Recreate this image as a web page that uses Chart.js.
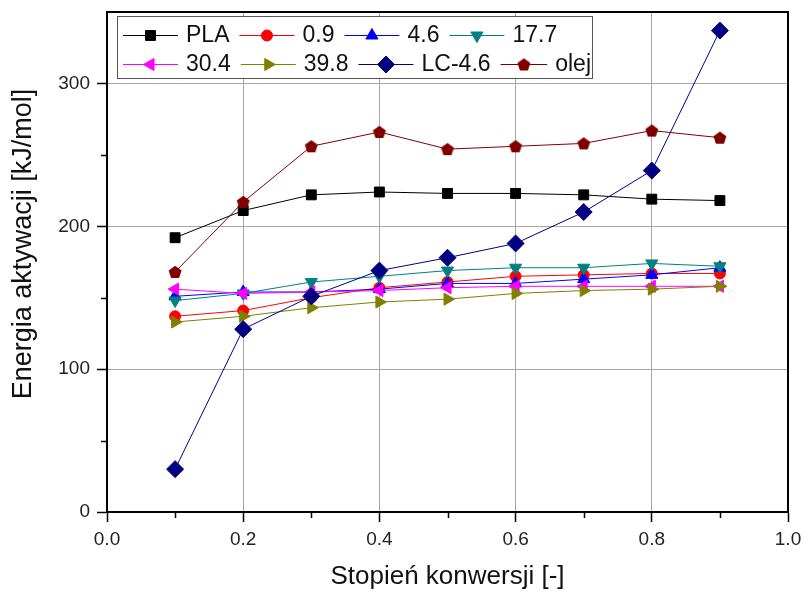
<!DOCTYPE html>
<html>
<head>
<meta charset="utf-8">
<script src="https://cdn.jsdelivr.net/npm/chart.js@4.4.1/dist/chart.umd.min.js"></script>
<style>
  html, body { margin: 0; padding: 0; background: #fff; }
</style>
</head>
<body>
<canvas id="myChart" width="804" height="592"></canvas>
<script>
// conversion degree (x) and activation energy series (kJ/mol)
const conversion = [0.1, 0.2, 0.3, 0.4, 0.5, 0.6, 0.7, 0.8, 0.9];
const pla    = [192, 211, 222, 224, 223, 223, 222, 219, 218];
const s09    = [137, 141, 150, 157, 161, 165, 166, 167, 167];
const s46    = [151, 154, 154, 156, 160, 160, 163, 166, 171];
const s177   = [148, 153, 161, 165, 169, 171, 171, 174, 172];
const s304   = [156, 153, 154, 155, 157, 158, 158, 158, 158];
const s398   = [133, 137, 143, 147, 149, 153, 155, 156, 158];
const lc46   = [30, 128, 151, 169, 178, 188, 210, 239, 337];
const olej   = [168, 217, 256, 266, 254, 256, 258, 267, 262];

const seriesLabels = ['PLA', '0.9', '4.6', '17.7', '30.4', '39.8', 'LC-4.6', 'olej'];
const xTicksMajor = [0.0, 0.2, 0.4, 0.6, 0.8, 1.0];
const yTicksMajor = [0, 100, 200, 300];
const yTitle = 'Energia aktywacji [kJ/mol]';
const xTitle = 'Stopień konwersji [-]';

const FONT = '"Liberation Sans", Arial, sans-serif';
Chart.defaults.font.family = FONT;

// pentagon marker for "olej"
function pentagon(color, r) {
    const c = document.createElement('canvas');
    const s = Math.ceil(r * 2) + 2;
    c.width = s; c.height = s;
    const g = c.getContext('2d');
    g.fillStyle = color;
    g.beginPath();
    for (let i = 0; i < 5; i++) {
        const a = -Math.PI / 2 + i * 2 * Math.PI / 5;
        const px = s / 2 + r * Math.cos(a);
        const py = s / 2 + 0.5 + r * Math.sin(a);
        if (i === 0) g.moveTo(px, py); else g.lineTo(px, py);
    }
    g.closePath();
    g.fill();
    return c;
}

const styles = [
    { color: '#000000', pointStyle: 'rect', radius: 7, rotation: 0 },
    { color: '#ff0000', pointStyle: 'circle', radius: 5.5, rotation: 0 },
    { color: '#0000ff', pointStyle: 'triangle', radius: 7, rotation: 0 },
    { color: '#008080', pointStyle: 'triangle', radius: 7, rotation: 180 },
    { color: '#ff00ff', pointStyle: 'triangle', radius: 7, rotation: 270 },
    { color: '#808000', pointStyle: 'triangle', radius: 7, rotation: 90 },
    { color: '#000080', pointStyle: 'rectRot', radius: 8.5, rotation: 0 },
    { color: '#800000', pointStyle: pentagon('#800000', 6.8), radius: 7, rotation: 0 }
];

const allSeries = [pla, s09, s46, s177, s304, s398, lc46, olej];

const datasets = allSeries.map((vals, i) => ({
    label: seriesLabels[i],
    data: conversion.map((x, k) => ({ x: x, y: vals[k] })),
    borderColor: styles[i].color,
    backgroundColor: styles[i].color,
    borderWidth: 1,
    pointStyle: styles[i].pointStyle,
    pointRadius: styles[i].radius,
    pointRotation: styles[i].rotation,
    pointBackgroundColor: styles[i].color,
    pointBorderColor: styles[i].color,
    pointBorderWidth: 1,
    pointHoverRadius: styles[i].radius,
    tension: 0,
    order: allSeries.length - i
}));

function isMajorX(v) { return xTicksMajor.some(t => Math.abs(t - v) < 1e-6); }
function isMajorY(v) { return yTicksMajor.indexOf(Math.round(v)) >= 0; }

// frame, minor ticks, y title and boxed legend inside the plot
const extras = {
    id: 'extras',
    afterDatasetsDraw(chart) {
        const ctx = chart.ctx;
        const area = chart.chartArea;
        const xs = chart.scales.x, ys = chart.scales.y;
        ctx.save();

        // top / right frame
        ctx.strokeStyle = '#000';
        ctx.lineWidth = 2;
        ctx.beginPath();
        ctx.moveTo(area.left, area.top);
        ctx.lineTo(area.right, area.top);
        ctx.lineTo(area.right, area.bottom);
        ctx.stroke();

        // minor ticks
        ctx.lineWidth = 1.5;
        xs.ticks.forEach(t => {
            if (isMajorX(t.value)) return;
            const px = Math.round(xs.getPixelForValue(t.value)) + 0.5;
            ctx.beginPath();
            ctx.moveTo(px, area.bottom);
            ctx.lineTo(px, area.bottom + 6);
            ctx.stroke();
        });
        ys.ticks.forEach(t => {
            if (isMajorY(t.value) || t.value >= ys.max) return;
            const py = Math.round(ys.getPixelForValue(t.value)) + 0.5;
            ctx.beginPath();
            ctx.moveTo(area.left, py);
            ctx.lineTo(area.left - 6, py);
            ctx.stroke();
        });

        // y axis title
        ctx.save();
        ctx.translate(24, 244);
        ctx.rotate(-Math.PI / 2);
        ctx.font = '27px ' + FONT;
        ctx.fillStyle = '#111';
        ctx.textAlign = 'center';
        ctx.textBaseline = 'middle';
        ctx.fillText(yTitle, 0, 0);
        ctx.restore();

        // legend
        const bx = area.left + 10, by = area.top + 4, bw = 475, bh = 62;
        ctx.fillStyle = '#fff';
        ctx.fillRect(bx, by, bw, bh);
        ctx.strokeStyle = '#555';
        ctx.lineWidth = 1;
        ctx.strokeRect(bx + 0.5, by + 0.5, bw, bh);
        ctx.font = '23px ' + FONT;
        ctx.textBaseline = 'middle';
        const rows = [[0, 1, 2, 3], [4, 5, 6, 7]];
        const rowY = [by + 19, by + 48];
        rows.forEach((row, r) => {
            let x = bx + 6;
            row.forEach((i, k) => {
                const ds = chart.data.datasets[i];
                const tw = ctx.measureText(ds.label).width;
                let lineLen = 55;
                if (k === row.length - 1) {
                    const over = x + lineLen + 8 + tw - (bx + bw - 1);
                    if (over > 0) lineLen -= over;
                }
                const y = rowY[r];
                ctx.strokeStyle = ds.borderColor;
                ctx.lineWidth = 1;
                ctx.beginPath();
                ctx.moveTo(x, y + 0.5);
                ctx.lineTo(x + lineLen, y + 0.5);
                ctx.stroke();
                ctx.fillStyle = ds.pointBackgroundColor;
                ctx.strokeStyle = ds.pointBorderColor;
                Chart.helpers.drawPoint(ctx, {
                    pointStyle: ds.pointStyle,
                    radius: ds.pointRadius,
                    rotation: ds.pointRotation,
                    borderWidth: 1
                }, x + lineLen / 2, y + 0.5);
                ctx.fillStyle = '#111';
                ctx.fillText(ds.label, x + lineLen + 8, y + 1);
                x += lineLen + 8 + tw + 10;
            });
        });
        ctx.restore();
    }
};

new Chart(document.getElementById('myChart'), {
    type: 'line',
    data: { datasets: datasets },
    options: {
        responsive: false,
        animation: false,
        devicePixelRatio: 1,
        layout: { padding: { top: 12, right: 16, bottom: 0, left: 0 } },
        plugins: {
            legend: { display: false },
            tooltip: { enabled: false }
        },
        scales: {
            x: {
                type: 'linear',
                min: 0,
                max: 1,
                ticks: {
                    stepSize: 0.1,
                    autoSkip: false,
                    maxRotation: 0,
                    padding: 6,
                    color: '#222',
                    font: { size: 19 },
                    callback: v => isMajorX(v) ? v.toFixed(1) : ''
                },
                grid: {
                    color: c => (c.tick && isMajorX(c.tick.value) && c.tick.value > 0.01 && c.tick.value < 0.99) ? '#a8a8a8' : 'rgba(0,0,0,0)',
                    tickColor: c => (c.tick && isMajorX(c.tick.value)) ? '#000' : 'rgba(0,0,0,0)',
                    tickLength: 10,
                    lineWidth: 1,
                    tickWidth: 1.5
                },
                border: { color: '#000', width: 2 },
                title: {
                    display: true,
                    text: xTitle,
                    color: '#111',
                    font: { size: 26 },
                    padding: { top: 0, bottom: 0 }
                },
                afterFit: s => { s.height = 80; s.paddingLeft = 0; s.paddingRight = 0; }
            },
            y: {
                type: 'linear',
                min: 0,
                max: 350,
                ticks: {
                    stepSize: 50,
                    autoSkip: false,
                    padding: 7,
                    color: '#222',
                    font: { size: 19 },
                    callback: v => isMajorY(v) ? String(v) : ''
                },
                grid: {
                    color: c => (c.tick && isMajorY(c.tick.value) && c.tick.value > 0) ? '#a8a8a8' : 'rgba(0,0,0,0)',
                    tickColor: c => (c.tick && isMajorY(c.tick.value)) ? '#000' : 'rgba(0,0,0,0)',
                    tickLength: 10,
                    lineWidth: 1,
                    tickWidth: 1.5
                },
                border: { color: '#000', width: 2 },
                title: { display: false },
                afterFit: s => { s.width = 107; s.paddingTop = 0; s.paddingBottom = 0; }
            }
        }
    },
    plugins: [extras]
});
</script>
</body>
</html>
